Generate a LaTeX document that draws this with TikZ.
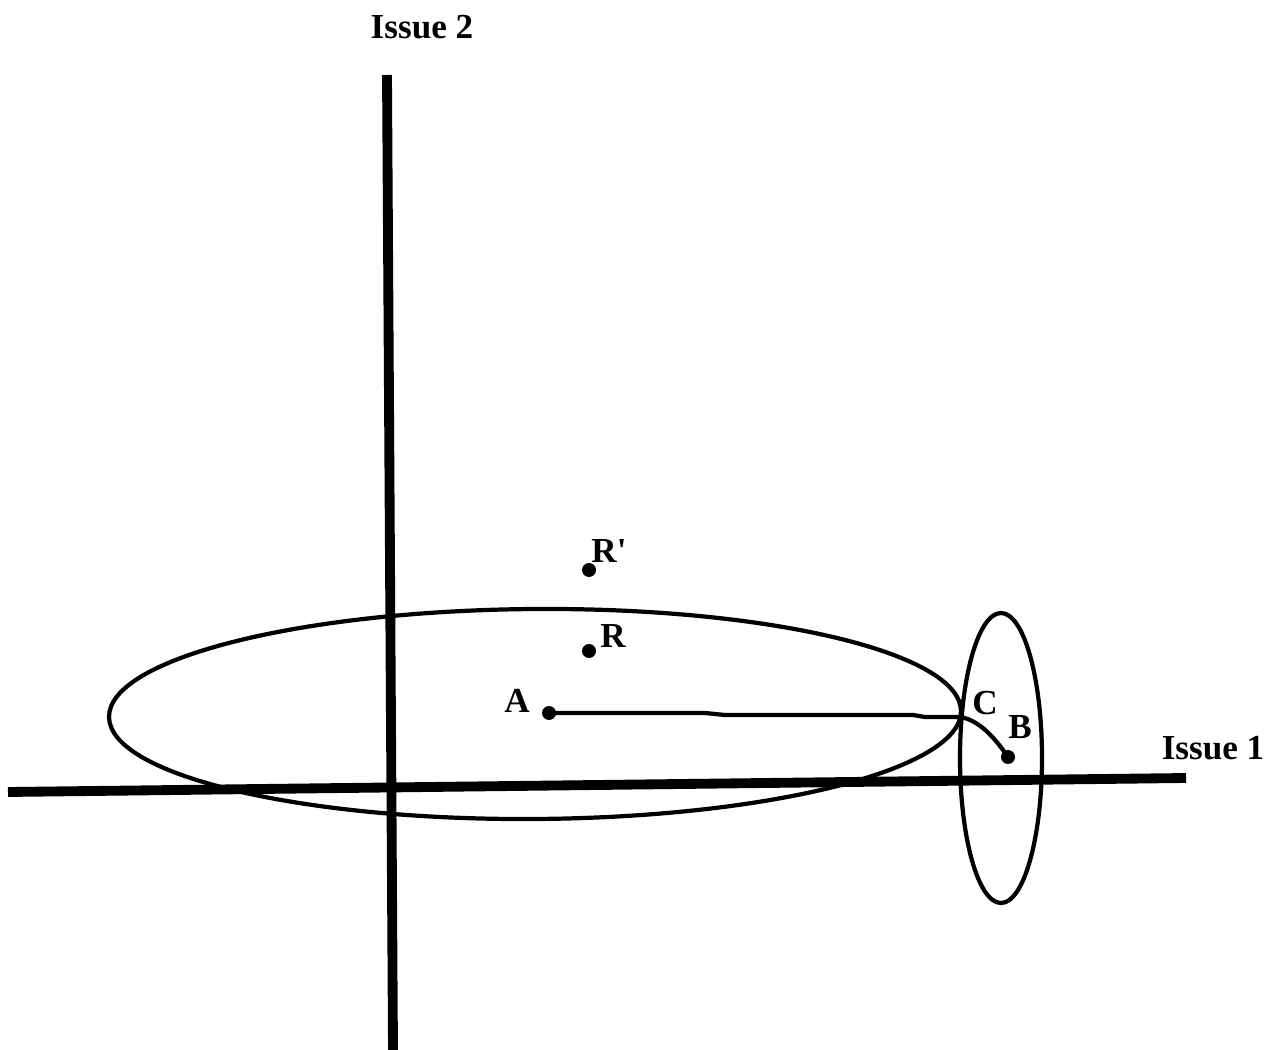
\documentclass[tikz,border=0pt]{standalone}
\usepackage{fontspec}
\setmainfont{Liberation Serif}
\usepackage{tikz}
\usetikzlibrary{positioning}

\begin{document}
\begin{tikzpicture}[
    x=0.02cm, y=-0.02cm,
    axis/.style={line width=5.6pt},
    curve/.style={line width=2.4pt, line join=round},
    dotpt/.style={circle, fill=black, inner sep=0pt, minimum size=0.28cm},
    lbl/.style={font=\fontsize{20}{22}\selectfont\bfseries, inner sep=0pt}
]
\useasboundingbox (0,0) rectangle (1285,1050);

% axes
\draw[axis] (8,792) -- (1186,778);
\draw[axis] (387,75) -- (393,1050);
\node[lbl] (issue2) at (422,27) {Issue 2};
\node[lbl] (issue1) at (1213,748) {Issue 1};

% indifference curves
\draw[curve, rotate around={0.4:(535,714)}] (535,714) ellipse [x radius=426, y radius=105];
\draw[curve] (1001,758) ellipse [x radius=41, y radius=145];

% ideal points
\node[dotpt] (a) at (549,713) {};
\node[dotpt] (r) at (589,651) {};
\node[dotpt] (rp) at (589,570) {};
\node[dotpt] (b) at (1008,757) {};
\coordinate (c) at (961,717);

\node[lbl] (alab) at (517,701) {A};
\node[lbl] (rlab) at (613,636) {R};
\node[lbl] (rplab) at (609,551) {R\textquotesingle};
\node[lbl] (blab) at (1020,727) {B};
\node[lbl] (clab) at (985,703) {C};

% contract path
\draw[curve] (a.center) -- (705,713) -- (725,715) -- (913,715) -- (925,717) -- (c);
\draw[curve] (c) .. controls (980,721) and (995,738) .. (b.center);
\end{tikzpicture}
\end{document}
